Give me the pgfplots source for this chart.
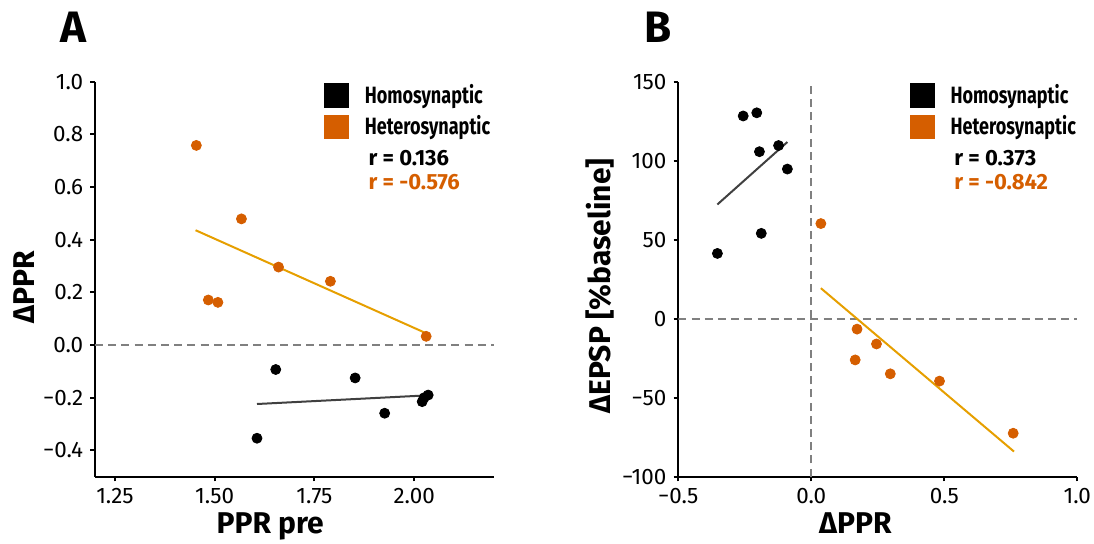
\documentclass[border=0pt]{standalone}
\usepackage{fontspec}
\setmainfont{Fira Sans}
\newfontfamily\condfont[FakeStretch=0.765]{Fira Sans}
\usepackage{pgfplots}
\pgfplotsset{compat=1.18}
\definecolor{hetero}{HTML}{D55E00}
\definecolor{heteroline}{HTML}{E69F00}
\definecolor{homoline}{HTML}{404040}
\definecolor{zeroline}{HTML}{808080}

\tikzset{rtext/.style={anchor=west, inner sep=0pt, font=\fontsize{11}{13}\selectfont\bfseries}}

\pgfplotsset{
  panel/.style={
    scale only axis, width=199.5pt, height=197.5pt,
    axis lines*=left, axis line style={line width=1pt},
    tick align=outside, major tick length=2.4pt,
    tick style={black, line width=1pt},
    tick label style={font=\fontsize{11.2}{13}\selectfont},
    label style={font=\fontsize{15}{18}\selectfont\bfseries},
    legend image code/.code={\fill[##1] (0pt,-5.9pt) rectangle (11.8pt,5.9pt);},
    legend style={draw=none, fill=none, inner sep=0pt, anchor=north west,
      font=\condfont\bfseries\fontsize{11.8}{14}\selectfont,
      row sep=0.6pt, /tikz/column sep=6pt},
    legend cell align=left,
  },
  homo/.style={only marks, mark=*, mark size=2.5pt, black,
    mark options={draw=none, fill=black}},
  het/.style={only marks, mark=*, mark size=2.5pt, hetero,
    mark options={draw=none, fill=hetero}},
  zero/.style={zeroline, line width=0.9pt, dash pattern=on 4pt off 2.6pt, forget plot},
}

\begin{document}
\begin{tikzpicture}
\path[use as bounding box] (0,0) rectangle (547pt,272pt);

\node[anchor=base west, inner sep=0pt, font=\fontsize{22}{26}\selectfont\bfseries] at (30.3pt,250.6pt) {A};
\node[anchor=base west, inner sep=0pt, font=\fontsize{22}{26}\selectfont\bfseries] at (321.8pt,250.6pt) {B};

% panel A
\begin{axis}[panel, at={(47.5pt,33.65pt)}, anchor=south west,
  xmin=1.2, xmax=2.2, ymin=-0.5, ymax=1.0,
  xtick={1.25,1.5,1.75,2.0}, xticklabels={1.25,1.50,1.75,2.00},
  ytick={-0.4,-0.2,0,0.2,0.4,0.6,0.8,1.0},
  yticklabels={−0.4,−0.2,0.0,0.2,0.4,0.6,0.8,1.0},
  xlabel={PPR pre}, ylabel={ΔPPR},
  xlabel style={at={(axis description cs:0.439,-0.144)}, anchor=base},
  ylabel style={at={(axis description cs:-0.152,0.479)}, anchor=base},
  legend style={at={(0.574,1.004)}},
]
\addplot[zero] coordinates {(1.2,0) (2.2,0)};
\addplot[homo] coordinates {
  (1.606,-0.354) (1.653,-0.093) (1.852,-0.125) (1.926,-0.259)
  (2.020,-0.215) (2.025,-0.200) (2.035,-0.190)
};
\addlegendentry{Homosynaptic}
\addplot[het] coordinates {
  (1.454,0.758) (1.484,0.171) (1.508,0.162) (1.567,0.479)
  (1.660,0.296) (1.790,0.242) (2.030,0.033)
};
\addlegendentry{Heterosynaptic}
\addplot[homoline, line width=1pt, forget plot] coordinates {(1.606,-0.224) (2.035,-0.191)};
\addplot[heteroline, line width=1pt, forget plot] coordinates {(1.452,0.436) (2.028,0.046)};
\node[rtext, text=black] at (axis description cs:0.685,0.806) {r = 0.136};
\node[rtext, text=hetero] at (axis description cs:0.685,0.747) {r = -0.576};
\end{axis}

% panel B
\begin{axis}[panel, at={(339.15pt,33.65pt)}, anchor=south west,
  xmin=-0.5, xmax=1.0, ymin=-100, ymax=150,
  xtick={-0.5,0,0.5,1.0}, xticklabels={−0.5,0.0,0.5,1.0},
  ytick={-100,-50,0,50,100,150},
  yticklabels={−100,−50,0,50,100,150},
  xlabel={ΔPPR}, ylabel={ΔEPSP [\%baseline]},
  xlabel style={at={(axis description cs:0.444,-0.144)}, anchor=base},
  ylabel style={at={(axis description cs:-0.17,0.483)}, anchor=base},
  legend style={at={(0.580,1.004)}},
]
\addplot[zero] coordinates {(-0.5,0) (1.0,0)};
\addplot[zero] coordinates {(0,-100) (0,150)};
\addplot[homo] coordinates {
  (-0.353,41.3) (-0.256,128.3) (-0.205,130.3) (-0.195,105.7)
  (-0.188,54.0) (-0.123,109.6) (-0.090,94.7)
};
\addlegendentry{Homosynaptic}
\addplot[het] coordinates {
  (0.036,60.2) (0.165,-26.1) (0.172,-6.6) (0.245,-16.0)
  (0.297,-34.9) (0.482,-39.5) (0.759,-72.5)
};
\addlegendentry{Heterosynaptic}
\addplot[homoline, line width=1pt, forget plot] coordinates {(-0.353,72.3) (-0.090,111.8)};
\addplot[heteroline, line width=1pt, forget plot] coordinates {(0.036,19.3) (0.762,-84.1)};
\node[rtext, text=black] at (axis description cs:0.691,0.806) {r = 0.373};
\node[rtext, text=hetero] at (axis description cs:0.691,0.747) {r = -0.842};
\end{axis}
\end{tikzpicture}
\end{document}
